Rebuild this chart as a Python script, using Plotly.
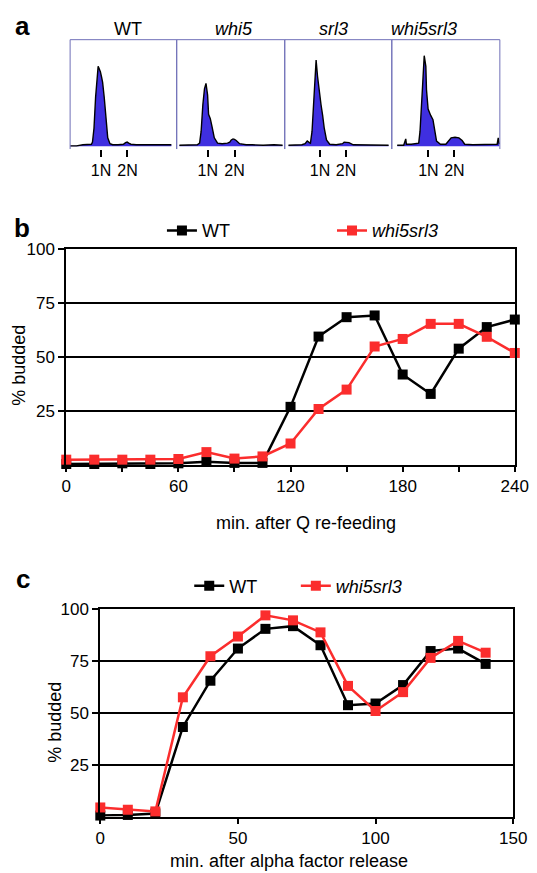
import plotly.graph_objects as go

W, H = 537, 873
FONT = "Liberation Sans, Arial, sans-serif"

# ---------------- Panel a: DNA-content histograms ----------------
samples = ["WT", "<i>whi5</i>", "<i>srl3</i>", "<i>whi5srl3</i>"]
wt_ch = [0, 60, 120, 170, 200, 210, 224, 239, 254, 263, 272, 284, 295, 305, 320, 335, 353, 374, 400, 450, 500, 520, 535, 550, 570, 620, 700, 780, 850, 900, 950]
wt_ct = [0.5, 0.5, 1.5, 1.5, 2, 4, 17, 46, 69, 75, 73, 70, 65, 60, 46, 27, 8, 2.5, 1.5, 1.5, 2, 3.5, 4, 3, 2, 1.5, 1.5, 1.5, 1, 1.5, 1.5]
whi5_ch = [25, 100, 150, 190, 212, 226, 242, 257, 271, 286, 295, 311, 326, 348, 378, 420, 470, 491, 505, 521, 535, 551, 582, 643, 700, 800, 900, 980]
whi5_ct = [1, 1, 1.5, 1.5, 3, 14, 39, 54, 59, 48, 30, 26, 19, 8, 3, 2.5, 3, 4, 6, 7, 6.5, 5.5, 2.5, 1.5, 1.5, 1, 1.5, 1]
srl3_ch = [35, 100, 160, 190, 210, 230, 240, 255, 264, 276, 288, 293, 306, 321, 339, 354, 369, 390, 420, 480, 540, 555, 580, 600, 640, 700, 800, 900, 970]
srl3_ct = [1, 1, 1.5, 2.5, 5, 3.5, 3, 14, 30, 57, 75, 81, 66, 51, 39, 29, 17, 6, 2, 1.5, 2.5, 4, 3.5, 3.5, 1.5, 1.5, 1, 1.5, 1]
ws_ch = [50, 110, 129, 135, 180, 249, 261, 273, 285, 300, 315, 321, 336, 360, 381, 399, 414, 450, 500, 525, 549, 585, 621, 651, 675, 750, 850, 950, 975, 985, 995]
ws_ct = [1, 1, 7, 2, 2, 3, 14, 32, 57, 85, 75, 53, 35, 29, 25, 14, 5, 2, 2, 5, 8, 8.5, 8, 5.5, 2, 1.5, 1.5, 1.5, 2, 8, 2]
hist_ch = [wt_ch, whi5_ch, srl3_ch, ws_ch]
hist_ct = [wt_ct, whi5_ct, srl3_ct, ws_ct]
peak_1n = [290, 288, 330, 339]
peak_2n = [538, 535, 572, 579]

# ---------------- Panel b: release from quiescence ----------------
t_b = [0, 15, 30, 45, 60, 75, 90, 105, 120, 135, 150, 165, 180, 195, 210, 225, 240]
wt_b = [0.5, 0.5, 0.8, 0.5, 0.8, 1.5, 1, 1, 27, 59.6, 68.6, 69.4, 42, 33, 54, 64, 67.5]
ws_b = [2.5, 2.5, 2.5, 2.5, 2.8, 6, 3, 4, 10, 26, 35, 55, 58.5, 65.5, 65.5, 59.5, 52]

# ---------------- Panel c: release from alpha factor ----------------
t_c = [0, 10, 20, 30, 40, 50, 60, 70, 80, 90, 100, 110, 120, 130, 140]
wt_c = [0.5, 0.8, 1.5, 43.2, 65.5, 81, 90.5, 91.8, 82.6, 53.7, 54.5, 63.4, 79.8, 81, 73.6]
ws_c = [4.4, 3.3, 2.5, 57.5, 77.3, 86.8, 97, 94.6, 88.8, 63, 50.9, 60, 76.5, 84.7, 79]

x_ticks_b = list(range(0, 241, 30))
x_text_b = [str(v) if v % 60 == 0 else "" for v in x_ticks_b]
x_ticks_c = [0, 50, 100, 150]
y_ticks = [25, 50, 75, 100]

BLACK = "#000000"
RED = "#fb2d2d"
BLUE_FILL = "#3f2fe0"
BOX = "#7070b8"


def px_x(p):
    return p / W


def px_y(p):
    return 1 - p / H


fig = go.Figure()
layout = dict(
    width=W, height=H, margin=dict(l=0, r=0, t=0, b=0),
    paper_bgcolor="white", plot_bgcolor="white",
    font=dict(family=FONT, color="black", size=16),
    showlegend=True,
)

box_px = [(67.5, 178), (178, 290), (290, 401), (401, 513)]
shapes = []
annotations = []
for i in range(4):
    n = i + 1
    xa = "x" if n == 1 else f"x{n}"
    ya = "y" if n == 1 else f"y{n}"
    fig.add_trace(go.Scatter(
        x=hist_ch[i], y=hist_ct[i], mode="lines", fill="tozeroy",
        fillcolor=BLUE_FILL, line=dict(color="black", width=1.4),
        xaxis=xa, yaxis=ya, showlegend=False, hoverinfo="skip"))
    x0, x1 = box_px[i]
    layout["xaxis" if n == 1 else f"xaxis{n}"] = dict(
        domain=[px_x(x0), px_x(x1)], range=[0, 1000], anchor=ya,
        showgrid=False, zeroline=False, showline=False,
        tickvals=[peak_1n[i], peak_2n[i]], ticktext=["1N", "2N"],
        ticks="outside", ticklen=7, tickwidth=2, tickcolor="black",
        tickfont=dict(size=16), fixedrange=True)
    layout["yaxis" if n == 1 else f"yaxis{n}"] = dict(
        domain=[px_y(141.5), px_y(31)], range=[-2.5, 100], anchor=xa,
        visible=False, fixedrange=True)
    for (a, b, c, d) in [(0, 0, 0, 1), (0, 1, 1, 1), (1, 1, 0, 1)]:
        shapes.append(dict(type="line", xref=f"{xa} domain", yref=f"{ya} domain",
                           x0=a, x1=b, y0=c, y1=d, line=dict(color=BOX, width=1)))

title_px = [127.4, 237.6, 341, 434.6]
for s, xp in zip(samples, title_px):
    annotations.append(dict(text=s, x=px_x(xp), y=px_y(20), xref="paper", yref="paper",
                            showarrow=False, xanchor="center", yanchor="middle",
                            font=dict(size=18)))


def line_trace(x, y, color, name, xa, ya, legend):
    return go.Scatter(
        x=x, y=y, mode="lines+markers", name=name,
        line=dict(color=color, width=2.5),
        marker=dict(symbol="square", size=10, color=color),
        xaxis=xa, yaxis=ya, cliponaxis=False, legend=legend)


fig.add_trace(line_trace(t_b, wt_b, BLACK, "WT", "x5", "y5", "legend"))
fig.add_trace(line_trace(t_b, ws_b, RED, "<i>whi5srl3</i>", "x5", "y5", "legend2"))
fig.add_trace(line_trace(t_c, wt_c, BLACK, "WT", "x6", "y6", "legend3"))
fig.add_trace(line_trace(t_c, ws_c, RED, "<i>whi5srl3</i>", "x6", "y6", "legend4"))

common_x = dict(showgrid=False, zeroline=False, showline=True, linewidth=2,
                linecolor="black", mirror=True, ticks="outside", ticklen=5,
                tickwidth=2, tickcolor="black", tickfont=dict(size=17),
                ticklabeloverflow="allow", fixedrange=True)
common_y = dict(showgrid=True, gridcolor="black", gridwidth=1.5, zeroline=False,
                showline=True, linewidth=2, linecolor="black", mirror=True,
                ticks="outside", ticklen=6, tickwidth=2, tickcolor="black",
                tickvals=y_ticks, tickfont=dict(size=17), range=[0, 100], fixedrange=True)

layout["xaxis5"] = dict(common_x, domain=[px_x(63.5), px_x(528.5)], range=[0, 240],
                        tickvals=x_ticks_b, ticktext=x_text_b, anchor="y5")
layout["yaxis5"] = dict(common_y, domain=[px_y(460.8), px_y(243)], anchor="x5")
layout["xaxis6"] = dict(common_x, domain=[px_x(98.8), px_x(526.8)], range=[0, 150],
                        tickvals=x_ticks_c, anchor="y6")
layout["yaxis6"] = dict(common_y, domain=[px_y(816), px_y(606.4)], anchor="x6")

leg = dict(orientation="h", xanchor="left", yanchor="middle", bgcolor="rgba(0,0,0,0)",
           borderwidth=0, font=dict(size=18), itemwidth=30)
layout["legend"] = dict(leg, x=px_x(162.7), y=px_y(224))
layout["legend2"] = dict(leg, x=px_x(339), y=px_y(224))
layout["legend3"] = dict(leg, x=px_x(191), y=px_y(583))
layout["legend4"] = dict(leg, x=px_x(301.5), y=px_y(583))

# panel letters and axis titles
for t, xp, yp in [("a", 18, 17), ("b", 18, 221), ("c", 19, 576)]:
    annotations.append(dict(text=f"<b>{t}</b>", x=px_x(xp), y=px_y(yp), xref="paper",
                            yref="paper", showarrow=False, xanchor="center",
                            yanchor="middle", font=dict(size=26)))
for t, xp, yp in [("min. after Q re-feeding", 312, 519),
                  ("min. after alpha factor release", 294, 861)]:
    annotations.append(dict(text=t, x=px_x(xp), y=px_y(yp), xref="paper", yref="paper",
                            showarrow=False, xanchor="center", yanchor="middle",
                            font=dict(size=18)))
for xp, yp in [(15, 360), (51, 721)]:
    annotations.append(dict(text="% budded", x=px_x(xp), y=px_y(yp), xref="paper",
                            yref="paper", showarrow=False, xanchor="center",
                            yanchor="middle", textangle=-90, font=dict(size=18)))

layout["shapes"] = shapes
layout["annotations"] = annotations
fig.update_layout(**layout)
fig.write_html(
    "out.html",
    config={"displayModeBar": False},
    post_script="document.body.style.margin='0';document.body.style.overflow='hidden';",
)
